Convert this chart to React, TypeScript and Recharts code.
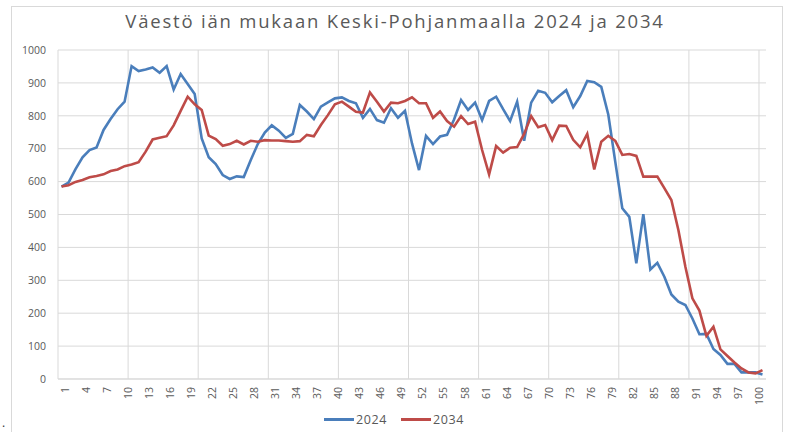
import { LineChart, Line, XAxis, YAxis, CartesianGrid, Legend } from 'recharts'

const ages = [
  1, 2, 3, 4, 5, 6, 7, 8, 9, 10, 11, 12, 13, 14, 15, 16, 17, 18, 19, 20,
  21, 22, 23, 24, 25, 26, 27, 28, 29, 30, 31, 32, 33, 34, 35, 36, 37, 38, 39, 40,
  41, 42, 43, 44, 45, 46, 47, 48, 49, 50, 51, 52, 53, 54, 55, 56, 57, 58, 59, 60,
  61, 62, 63, 64, 65, 66, 67, 68, 69, 70, 71, 72, 73, 74, 75, 76, 77, 78, 79, 80,
  81, 82, 83, 84, 85, 86, 87, 88, 89, 90, 91, 92, 93, 94, 95, 96, 97, 98, 99, 100,
  101,
]

const pop2024 = [
  585, 597, 638, 674, 696, 704, 757, 790, 820, 843, 951, 936, 941, 947, 931, 951, 880, 927, 897, 866,
  731, 674, 653, 620, 608, 616, 614, 666, 714, 749, 771, 755, 733, 745, 833, 813, 790, 828, 841, 853,
  856, 845, 838, 794, 821, 787, 779, 823, 794, 815, 716, 635, 739, 714, 737, 742, 789, 848, 818, 840,
  787, 845, 858, 820, 784, 843, 724, 840, 876, 870, 841, 860, 878, 826, 860, 906, 902, 888, 804, 660,
  519, 493, 352, 501, 333, 353, 311, 257, 235, 225, 184, 136, 137, 91, 73, 46, 46, 20, 20, 20,
  14,
]

const pop2034 = [
  585, 589, 599, 605, 613, 617, 622, 632, 637, 647, 652, 659, 691, 728, 733, 738, 771, 815, 858, 835,
  818, 740, 729, 709, 714, 724, 713, 724, 721, 726, 725, 725, 723, 721, 723, 742, 738, 772, 802, 835,
  843, 828, 812, 810, 871, 843, 813, 840, 838, 845, 856, 838, 838, 794, 813, 784, 767, 799, 775, 782,
  696, 622, 708, 688, 703, 705, 745, 799, 765, 772, 726, 770, 769, 727, 704, 745, 637, 721, 739, 724,
  681, 684, 678, 615, 615, 615, 580, 544, 453, 341, 245, 208, 131, 159, 90, 70, 50, 32, 20, 17,
  27,
]

const xTicks = [
  1, 4, 7, 10, 13, 16, 19, 22, 25, 28, 31, 34, 37, 40, 43, 46, 49, 52, 55, 58,
  61, 64, 67, 70, 73, 76, 79, 82, 85, 88, 91, 94, 97, 100,
]
const yTicks = [0, 100, 200, 300, 400, 500, 600, 700, 800, 900, 1000]
const xGrid = [0.5, 10.5, 20.5, 30.5, 40.5, 50.5, 60.5, 70.5, 80.5, 90.5, 100.5]

const data = ages.map((age, i) => ({ age, v2024: pop2024[i], v2034: pop2034[i] }))

const font = '"Open Sans", "Liberation Sans", sans-serif'

const LegendContent = ({ payload }: any) => (
  <div style={{ display: 'flex', justifyContent: 'center', gap: 14, fontFamily: font, fontSize: 12.5, color: '#595959', letterSpacing: 0.6 }}>
    {(payload || []).map((p: any) => (
      <div key={p.value} style={{ display: 'flex', alignItems: 'center' }}>
        <span style={{ display: 'inline-block', width: 30, height: 0, borderTop: `3px solid ${p.color}`, marginRight: 2 }} />
        <span>{p.value}</span>
      </div>
    ))}
  </div>
)

export default function App() {
  return (
    <div style={{ position: 'absolute', left: 0, top: 0, width: 788, height: 432, background: '#fff', overflow: 'hidden' }}>
      <div style={{ position: 'absolute', left: 11, top: 6, width: 770, height: 460, border: '1px solid #d9d9d9' }} />
      <div style={{ position: 'absolute', left: 0, top: 8, width: 790, textAlign: 'center', fontFamily: font, fontSize: 18.5, color: '#595959', letterSpacing: 1.8 }}>
        Väestö iän mukaan Keski-Pohjanmaalla 2024 ja 2034
      </div>
      <div style={{ position: 'absolute', left: 2, top: 414, fontFamily: font, fontSize: 12, color: '#333' }}>.</div>
      <LineChart
        width={788}
        height={432}
        data={data}
        margin={{ top: 50, right: 22, left: 0, bottom: 23 }}
        style={{ position: 'absolute', left: 0, top: 0 }}
      >
        <CartesianGrid stroke="#d9d9d9" verticalValues={xGrid} horizontalValues={yTicks} />
        <XAxis
          dataKey="age"
          type="number"
          domain={[0.5, 101.5]}
          ticks={xTicks}
          interval={0}
          height={30}
          axisLine={{ stroke: '#d9d9d9' }}
          tickLine={false}
          tick={{ angle: -90, textAnchor: 'end', verticalAnchor: 'middle', fontSize: 10.5, fill: '#595959', fontFamily: font }}
        />
        <YAxis
          width={58}
          domain={[0, 1000]}
          ticks={yTicks}
          interval={0}
          axisLine={false}
          tickLine={false}
          tickMargin={6}
          tick={{ fontSize: 10.5, fill: '#595959', fontFamily: font }}
        />
        <Legend
          verticalAlign="middle"
          align="center"
          wrapperStyle={{ left: 0, top: 411, width: 788 }}
          content={<LegendContent />}
        />
        <Line type="linear" dataKey="v2024" name="2024" stroke="#4A7EBB" strokeWidth={2.6} dot={false} isAnimationActive={false} />
        <Line type="linear" dataKey="v2034" name="2034" stroke="#BE4B48" strokeWidth={2.6} dot={false} isAnimationActive={false} />
      </LineChart>
    </div>
  )
}
